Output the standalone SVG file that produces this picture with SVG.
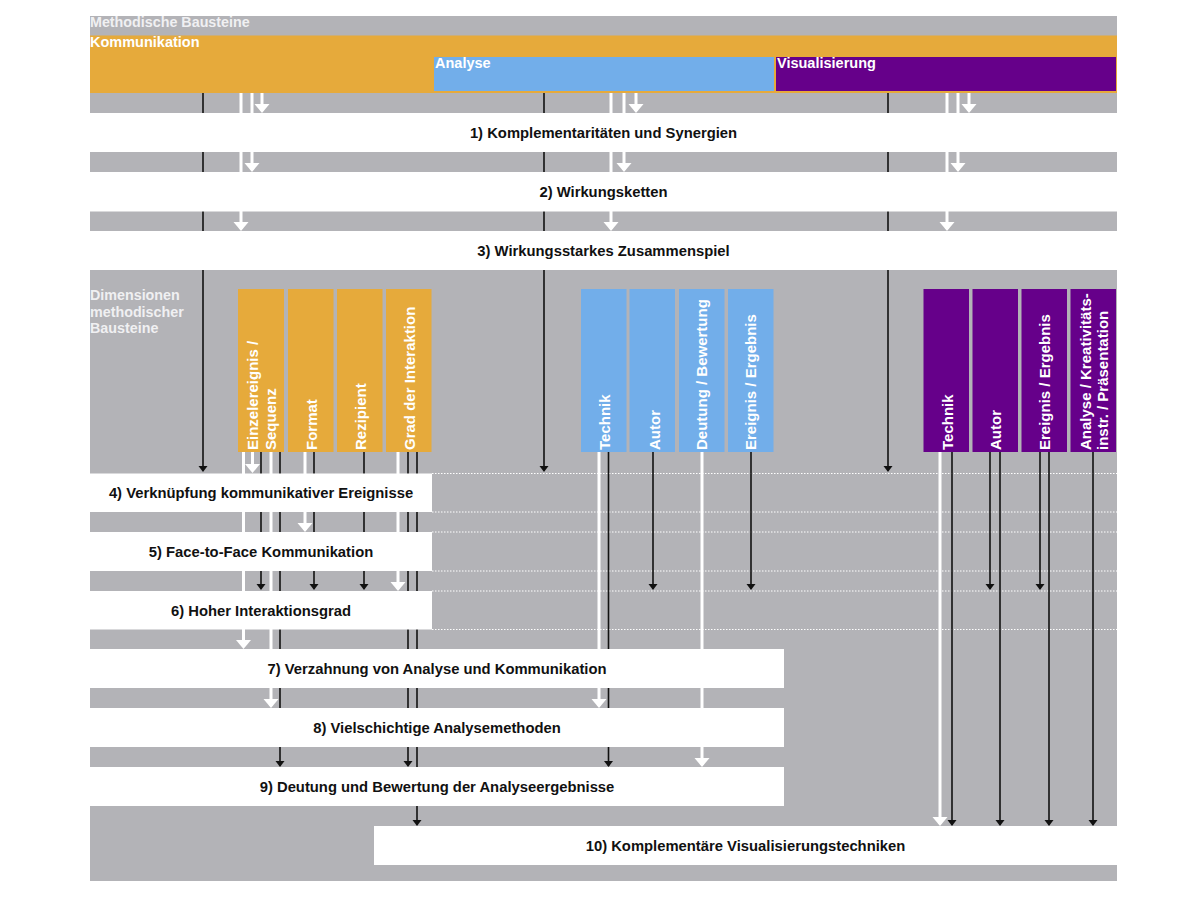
<svg xmlns="http://www.w3.org/2000/svg" width="1200" height="899" viewBox="0 0 1200 899">
<style>
.bg{fill:#b3b3b7}
.band{fill:#ffffff}
.t{font-family:"Liberation Sans",Arial,Helvetica,sans-serif;font-weight:bold}
.lbl{font-size:14.8px;fill:#111111;text-anchor:middle}
.hdr{font-size:14.5px;fill:#ffffff}
.hdr2{font-size:14.3px;fill:#f0f0f2}
.col{font-size:15px;fill:#ffffff}
.ko{fill:#e6aa3b}
.an{fill:#72aeea}
.vi{fill:#66008a}
.blk{stroke:#111111;stroke-width:1.6;fill:none;marker-end:url(#ab)}
.wht{stroke:#ffffff;stroke-width:3;fill:none;marker-end:url(#aw)}
.line{stroke:#111111;stroke-width:1.6;fill:none}
.dot{stroke:#ffffff;stroke-width:1;stroke-dasharray:1.5 1.5;fill:none}
</style>
<defs>
<marker id="ab" markerUnits="userSpaceOnUse" viewBox="0 0 9 6" markerWidth="9" markerHeight="6" refX="4.5" refY="5" orient="0" overflow="visible"><path d="M0,0 L9,0 L4.5,6 Z" fill="#111111"/></marker>
<marker id="aw" markerUnits="userSpaceOnUse" viewBox="0 0 15 9" markerWidth="15" markerHeight="9" refX="7.5" refY="7" orient="0" overflow="visible"><path d="M0,0 L15,0 L7.5,9 Z" fill="#ffffff"/></marker>
</defs>

<rect class="bg" x="90" y="16" width="1027" height="865"/>
<g id="header">
<text class="t hdr2" x="90" y="27">Methodische Bausteine</text>
</g>
<g id="kommunikation">
<rect class="ko" x="90" y="35.5" width="1027" height="57.5"/>
<text class="t hdr" x="90" y="46.5">Kommunikation</text>
</g>
<g id="analyse">
<rect class="an" x="433.5" y="56.5" width="341" height="35" stroke="#e6aa3b" stroke-width="1"/>
<text class="t hdr" x="435" y="67.5">Analyse</text>
</g>
<g id="visualisierung">
<rect class="vi" x="775.5" y="56.5" width="341" height="35" stroke="#e6aa3b" stroke-width="1"/>
<text class="t hdr" x="777" y="67.5">Visualisierung</text>
</g>

<g id="dotted">
<line class="dot" x1="432" y1="473.5" x2="1117" y2="473.5"/>
<line class="dot" x1="432" y1="512" x2="1117" y2="512"/>
<line class="dot" x1="432" y1="532" x2="1117" y2="532"/>
<line class="dot" x1="432" y1="571" x2="1117" y2="571"/>
<line class="dot" x1="432" y1="591" x2="1117" y2="591"/>
<line class="dot" x1="432" y1="629.5" x2="1117" y2="629.5"/>
</g>

<g id="connectors">
<!-- top: black -->
<line class="blk" x1="203" y1="93" x2="203" y2="471"/>
<line class="blk" x1="544" y1="93" x2="544" y2="471"/>
<line class="blk" x1="888" y1="93" x2="888" y2="471"/>
<!-- top: white -->
<line class="wht" x1="262" y1="93" x2="262" y2="111"/>
<line class="wht" x1="252" y1="93" x2="252" y2="170"/>
<line class="wht" x1="241" y1="93" x2="241" y2="229"/>
<line class="wht" x1="636" y1="93" x2="636" y2="111"/>
<line class="wht" x1="624" y1="93" x2="624" y2="170"/>
<line class="wht" x1="611" y1="93" x2="611" y2="229"/>
<line class="wht" x1="969" y1="93" x2="969" y2="111"/>
<line class="wht" x1="958" y1="93" x2="958" y2="170"/>
<line class="wht" x1="947" y1="93" x2="947" y2="229"/>
<!-- Kommunikation dimensions -->
<line class="wht" x1="243.5" y1="452" x2="243.5" y2="647"/>
<line class="wht" x1="252.5" y1="452" x2="252.5" y2="471"/>
<line class="blk" x1="261" y1="452" x2="261" y2="589"/>
<line class="wht" x1="271" y1="452" x2="271" y2="706"/>
<line class="blk" x1="280" y1="452" x2="280" y2="766"/>
<line class="wht" x1="305" y1="452" x2="305" y2="530"/>
<line class="blk" x1="314" y1="452" x2="314" y2="589"/>
<line class="blk" x1="364" y1="452" x2="364" y2="589"/>
<line class="wht" x1="398" y1="452" x2="398" y2="589"/>
<line class="blk" x1="408" y1="452" x2="408" y2="766"/>
<line class="blk" x1="417" y1="452" x2="417" y2="825"/>
<!-- Analyse dimensions -->
<line class="wht" x1="599" y1="452" x2="599" y2="706"/>
<line class="blk" x1="608.5" y1="452" x2="608.5" y2="766"/>
<line class="blk" x1="653" y1="452" x2="653" y2="589"/>
<line class="wht" x1="702" y1="452" x2="702" y2="765"/>
<line class="blk" x1="751" y1="452" x2="751" y2="589"/>
<!-- Visualisierung dimensions -->
<line class="wht" x1="940" y1="452" x2="940" y2="824"/>
<line class="blk" x1="952" y1="452" x2="952" y2="825"/>
<line class="blk" x1="990" y1="452" x2="990" y2="589"/>
<line class="blk" x1="1000" y1="452" x2="1000" y2="825"/>
<line class="blk" x1="1040" y1="452" x2="1040" y2="589"/>
<line class="blk" x1="1049" y1="452" x2="1049" y2="825"/>
<line class="blk" x1="1093" y1="452" x2="1093" y2="825"/>
</g>

<g id="band1"><rect class="band" x="90" y="113" width="1027" height="39"/><text class="t lbl" x="603.5" y="137.5">1) Komplementaritäten und Synergien</text></g>
<g id="band2"><rect class="band" x="90" y="172" width="1027" height="39.5"/><text class="t lbl" x="603.5" y="196.5">2) Wirkungsketten</text></g>
<g id="band3"><rect class="band" x="90" y="231" width="1027" height="39"/><text class="t lbl" x="603.5" y="255.5">3) Wirkungsstarkes Zusammenspiel</text></g>
<g id="band4"><rect class="band" x="90" y="473.5" width="342" height="38.5"/><text class="t lbl" x="261" y="497.5">4) Verknüpfung kommunikativer Ereignisse</text></g>
<g id="band5"><rect class="band" x="90" y="532" width="342" height="39"/><text class="t lbl" x="261" y="556.5">5) Face-to-Face Kommunikation</text></g>
<g id="band6"><rect class="band" x="90" y="591" width="342" height="38.5"/><text class="t lbl" x="261" y="615.5">6) Hoher Interaktionsgrad</text></g>
<g id="band7"><rect class="band" x="90" y="649" width="694" height="39"/><text class="t lbl" x="437" y="673.5">7) Verzahnung von Analyse und Kommunikation</text></g>
<g id="band8"><rect class="band" x="90" y="708" width="694" height="39"/><text class="t lbl" x="437" y="732.5">8) Vielschichtige Analysemethoden</text></g>
<g id="band9"><rect class="band" x="90" y="767" width="694" height="39"/><text class="t lbl" x="437" y="791.5">9) Deutung und Bewertung der Analyseergebnisse</text></g>
<g id="band10"><rect class="band" x="374" y="826" width="743" height="39"/><text class="t lbl" x="745.5" y="850.5">10) Komplementäre Visualisierungstechniken</text></g>

<g id="dimensionen">
<text class="t hdr2" x="90" y="299.5">Dimensionen</text>
<text class="t hdr2" x="90" y="316.5">methodischer</text>
<text class="t hdr2" x="90" y="333">Bausteine</text>
</g>

<g id="k-einzelereignis"><rect class="ko" x="238" y="289" width="46" height="163"/><text class="t col" transform="translate(257.5,450) rotate(-90)">Einzelereignis /</text><text class="t col" transform="translate(275.5,450) rotate(-90)">Sequenz</text></g>
<g id="k-format"><rect class="ko" x="288" y="289" width="45.5" height="163"/><text class="t col" transform="translate(316.5,450) rotate(-90)">Format</text></g>
<g id="k-rezipient"><rect class="ko" x="337" y="289" width="45.5" height="163"/><text class="t col" transform="translate(365.5,450) rotate(-90)">Rezipient</text></g>
<g id="k-grad"><rect class="ko" x="386" y="289" width="45.5" height="163"/><text class="t col" transform="translate(414.5,450) rotate(-90)">Grad der Interaktion</text></g>

<g id="a-technik"><rect class="an" x="581" y="289" width="45.5" height="163"/><text class="t col" transform="translate(610,450) rotate(-90)">Technik</text></g>
<g id="a-autor"><rect class="an" x="629.5" y="289" width="45.5" height="163"/><text class="t col" transform="translate(659.5,450) rotate(-90)">Autor</text></g>
<g id="a-deutung"><rect class="an" x="679" y="289" width="45.5" height="163"/><text class="t col" transform="translate(707,450) rotate(-90)">Deutung / Bewertung</text></g>
<g id="a-ereignis"><rect class="an" x="728" y="289" width="45.5" height="163"/><text class="t col" transform="translate(756,450) rotate(-90)">Ereignis / Ergebnis</text></g>

<g id="v-technik"><rect class="vi" x="923.5" y="289" width="45.5" height="163"/><text class="t col" transform="translate(952.5,450) rotate(-90)">Technik</text></g>
<g id="v-autor"><rect class="vi" x="972.5" y="289" width="45.5" height="163"/><text class="t col" transform="translate(1000.5,450) rotate(-90)">Autor</text></g>
<g id="v-ereignis"><rect class="vi" x="1021.5" y="289" width="45.5" height="163"/><text class="t col" transform="translate(1049.5,450) rotate(-90)">Ereignis / Ergebnis</text></g>
<g id="v-analyse"><rect class="vi" x="1070.5" y="289" width="45.5" height="163"/><text class="t col" transform="translate(1091,450) rotate(-90)">Analyse / Kreativitäts-</text><text class="t col" transform="translate(1108,450) rotate(-90)">instr. / Präsentation</text></g>
</svg>
